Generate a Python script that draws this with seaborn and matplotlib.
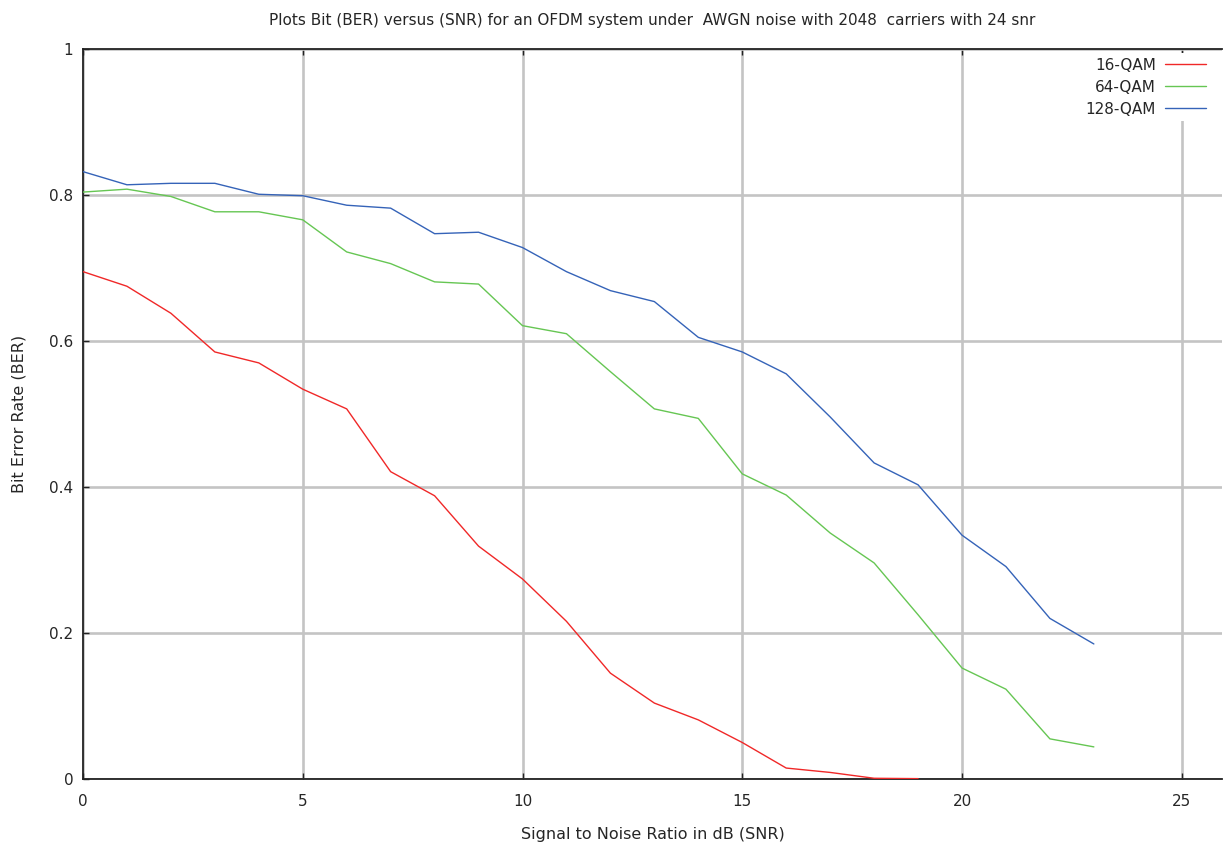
import pandas as pd
import seaborn as sns
import matplotlib.pyplot as plt

# values
snr_16 = list(range(0, 20))
ber_16 = [0.695, 0.675, 0.638, 0.585, 0.570, 0.534, 0.507, 0.421, 0.388, 0.319,
          0.274, 0.216, 0.145, 0.104, 0.081, 0.050, 0.015, 0.009, 0.001, 0.0005]

snr_64 = list(range(0, 24))
ber_64 = [0.804, 0.808, 0.798, 0.777, 0.777, 0.766, 0.722, 0.706, 0.681, 0.678,
          0.621, 0.610, 0.558, 0.507, 0.494, 0.418, 0.389, 0.337, 0.296, 0.225,
          0.152, 0.123, 0.055, 0.044]

snr_128 = list(range(0, 24))
ber_128 = [0.832, 0.814, 0.816, 0.816, 0.801, 0.799, 0.786, 0.782, 0.747, 0.749,
           0.728, 0.695, 0.669, 0.654, 0.605, 0.585, 0.555, 0.496, 0.433, 0.403,
           0.334, 0.291, 0.220, 0.185]

labels = ["16-QAM", "64-QAM", "128-QAM"]
colors = ["#f02828", "#66c653", "#3563b8"]

df = pd.concat([
    pd.DataFrame({"SNR": snr_16, "BER": ber_16, "Scheme": labels[0]}),
    pd.DataFrame({"SNR": snr_64, "BER": ber_64, "Scheme": labels[1]}),
    pd.DataFrame({"SNR": snr_128, "BER": ber_128, "Scheme": labels[2]}),
])

sns.set_style("white")
plt.rcParams["font.family"] = ["DejaVu Sans"]

fig = plt.figure(figsize=(12.23, 8.5), dpi=100)
ax = fig.add_axes([83 / 1223, 1 - 779 / 850, 1139 / 1223, 730 / 850])

sns.lineplot(data=df, x="SNR", y="BER", hue="Scheme", hue_order=labels,
             palette=dict(zip(labels, colors)), linewidth=1.0, ax=ax,
             legend=False, zorder=3)

ax.set_xlim(0, 1139 / 43.95)
ax.set_ylim(0, 1)
ax.set_xticks([0, 5, 10, 15, 20, 25])
ax.set_yticks([0, 0.2, 0.4, 0.6, 0.8, 1])
ax.set_yticklabels(["0", "0.2", "0.4", "0.6", "0.8", "1"])
ax.grid(True, color="#c4c4c4", linewidth=1.9)
ax.set_axisbelow(True)
ax.tick_params(direction="in", length=4, width=1, color="#222222",
               labelsize=11, left=True, bottom=True, top=True)
ax.tick_params(axis="x", pad=11)
ax.tick_params(axis="y", pad=7)
for side in ["top", "left", "bottom"]:
    ax.spines[side].set_color("#222222")
    ax.spines[side].set_linewidth(1.3)
ax.spines["right"].set_visible(False)

ax.set_xlabel("Signal to Noise Ratio in dB (SNR)", fontsize=11.5, labelpad=13)
ax.set_ylabel("Bit Error Rate (BER)", fontsize=11.5, labelpad=16)
ax.set_title("Plots Bit (BER) versus (SNR) for an OFDM system under  AWGN noise with 2048  carriers with 24 snr",
             fontsize=11, pad=17)

handles = [plt.Line2D([], [], color=c, linewidth=1.0) for c in colors]
leg = ax.legend(handles, labels, loc="upper right",
                bbox_to_anchor=(1211 / 1223, 1 - 53 / 850),
                bbox_transform=fig.transFigure, frameon=True, markerfirst=False,
                fontsize=11, handlelength=2.7, handletextpad=0.6, labelspacing=0.46,
                borderaxespad=0, borderpad=0.3, fancybox=False, framealpha=1)
leg.get_frame().set_facecolor("white")
leg.get_frame().set_edgecolor("none")

fig.savefig("out.png", dpi=100, facecolor="white")
